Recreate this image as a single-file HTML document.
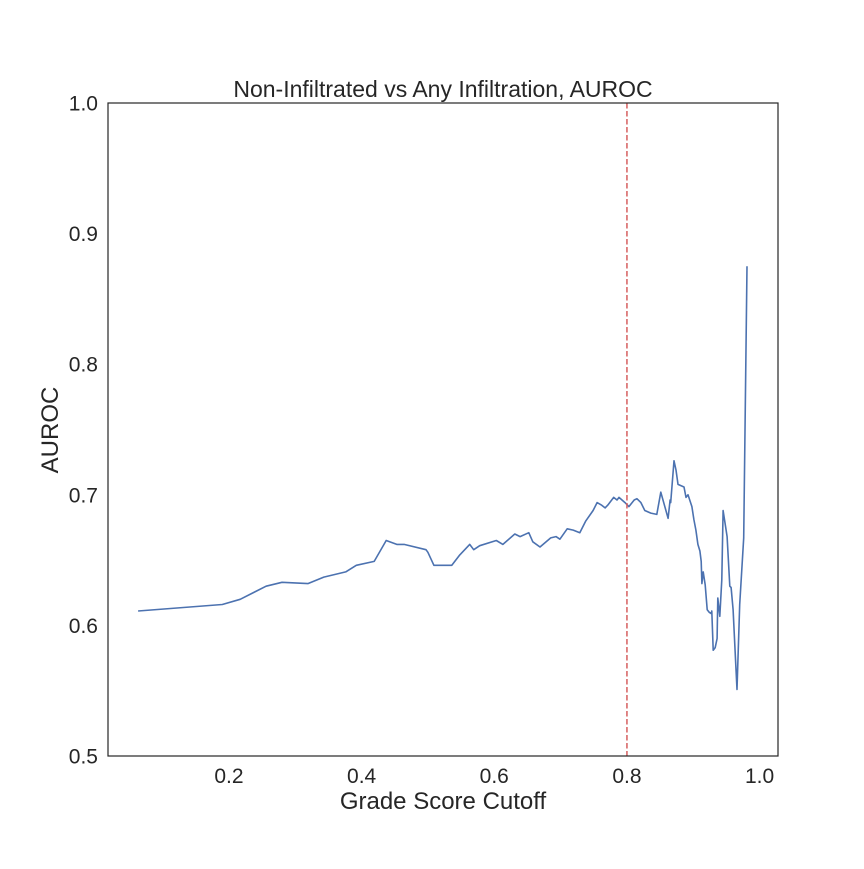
<!DOCTYPE html>
<html><head><meta charset="utf-8"><style>
body{margin:0;background:#fff;font-family:"Liberation Sans",sans-serif;}
</style></head><body>
<svg id="chart" width="864" height="864" xmlns="http://www.w3.org/2000/svg"></svg>
<script>
const xVals=[0.063,0.190,0.217,0.256,0.280,0.319,0.343,0.376,0.392,0.419,0.437,0.453,0.464,0.497,0.500,0.509,0.521,0.536,0.548,0.563,0.569,0.578,0.603,0.613,0.631,0.639,0.652,0.658,0.669,0.685,0.693,0.699,0.710,0.719,0.729,0.738,0.749,0.755,0.762,0.767,0.771,0.780,0.785,0.788,0.797,0.803,0.811,0.815,0.821,0.827,0.836,0.845,0.851,0.862,0.865,0.866,0.871,0.874,0.877,0.886,0.889,0.892,0.898,0.901,0.904,0.907,0.910,0.912,0.913,0.915,0.918,0.921,0.924,0.927,0.928,0.930,0.933,0.936,0.937,0.940,0.943,0.945,0.948,0.951,0.955,0.957,0.960,0.964,0.966,0.970,0.976,0.981];
const aurocVals=[0.611,0.616,0.620,0.630,0.633,0.632,0.637,0.641,0.646,0.649,0.665,0.662,0.662,0.658,0.656,0.646,0.646,0.646,0.654,0.662,0.658,0.661,0.665,0.662,0.670,0.668,0.671,0.664,0.660,0.667,0.668,0.666,0.674,0.673,0.671,0.680,0.688,0.694,0.692,0.690,0.692,0.698,0.696,0.698,0.694,0.691,0.696,0.697,0.694,0.688,0.686,0.685,0.702,0.682,0.696,0.694,0.726,0.719,0.708,0.706,0.698,0.700,0.691,0.681,0.673,0.662,0.657,0.649,0.632,0.641,0.631,0.612,0.610,0.609,0.611,0.581,0.583,0.590,0.621,0.607,0.635,0.688,0.678,0.668,0.630,0.629,0.612,0.571,0.551,0.616,0.667,0.875];
const xTicks=[0.2,0.4,0.6,0.8,1.0];
const xTickLabels=["0.2","0.4","0.6","0.8","1.0"];
const yTicks=[0.5,0.6,0.7,0.8,0.9,1.0];
const yTickLabels=["0.5","0.6","0.7","0.8","0.9","1.0"];
const cutoff=0.8;

const L=108,R=778,T=103,B=756;
const sx=v=>96.3+v*663.3;
const sy=v=>B-(v-0.5)*(B-T)/0.5;
const svg=document.getElementById('chart');
const NS="http://www.w3.org/2000/svg";
function mk(tag,attrs,parent){const e=document.createElementNS(NS,tag);for(const k in attrs)e.setAttribute(k,attrs[k]);(parent||svg).appendChild(e);return e;}

const line=mk('polyline',{points:xVals.map((x,i)=>sx(x).toFixed(1)+','+sy(aurocVals[i]).toFixed(1)).join(' '),fill:'none',stroke:'#4c72b0','stroke-width':1.6,'stroke-linejoin':'round'});



const vl=mk('line',{x1:sx(cutoff),x2:sx(cutoff),y1:T,y2:B,stroke:'#d65f5f','stroke-width':1.5,'stroke-dasharray':'5.5,2.5'});



const frame=mk('rect',{x:L,y:T,width:R-L,height:B-T,fill:'none',stroke:'#262626','stroke-width':1.2});



xTicks.forEach((v,i)=>{
  const t=mk('text',{x:sx(v),y:783,'text-anchor':'middle','font-size':21,fill:'#262626'});
  t.textContent=xTickLabels[i];
  
  
});
yTicks.forEach((v,i)=>{
  const t=mk('text',{x:98,y:sy(v)+7.5,'text-anchor':'end','font-size':21,fill:'#262626'});
  t.textContent=yTickLabels[i];
  
  
});
const title=mk('text',{x:443,y:97,'text-anchor':'middle','font-size':23,fill:'#262626'});
title.textContent='Non-Infiltrated vs Any Infiltration, AUROC';


const xl=mk('text',{x:443,y:809,'text-anchor':'middle','font-size':24,fill:'#262626'});
xl.textContent='Grade Score Cutoff';


const yl=mk('text',{x:58,y:430,'text-anchor':'middle','font-size':24,fill:'#262626',transform:'rotate(-90 58 430)'});
yl.textContent='AUROC';


</script>
</body></html>
